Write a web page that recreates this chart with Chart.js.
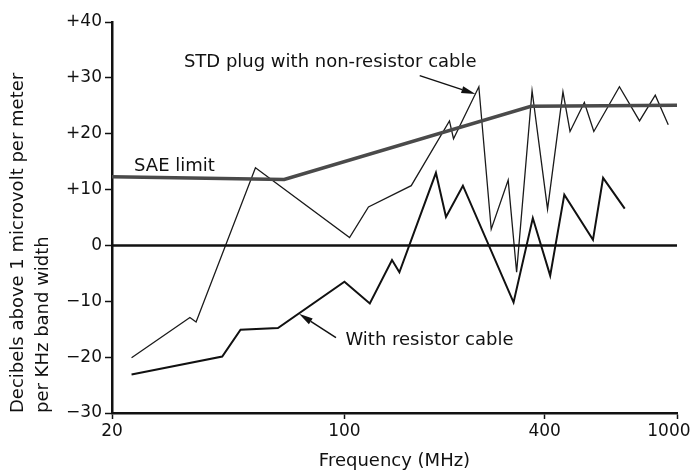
<!DOCTYPE html>
<html>
<head>
<meta charset="utf-8">
<script src="https://cdn.jsdelivr.net/npm/chart.js@4.4.1/dist/chart.umd.min.js"></script>
<style>
  html, body { margin: 0; padding: 0; background: #fff; }
</style>
</head>
<body>
<canvas id="noiseChart" width="693" height="472"></canvas>
<script>
// Frequency in MHz, level in dB above 1 microvolt per meter per KHz
const stdFreq  = [22.9, 34.3, 35.8, 54.0, 103.6, 118.1, 158.8, 206.9, 212.8, 253.6, 276.3, 310.7,
                  329.4, 366.6, 408.1, 454.0, 476.8, 526.5, 562.2, 671.2, 771.5, 860.3, 941.3];
const stdLevel = [-20.1, -12.9, -13.7, 13.9, 1.4, 6.9, 10.7, 22.3, 19.1, 28.4, 2.9, 11.7,
                  -4.8, 27.7, 6.5, 27.5, 20.4, 25.6, 20.4, 28.4, 22.3, 26.9, 21.6];

const resFreq  = [22.9, 42.9, 48.7, 63.1, 100, 119.2, 139.0, 146.3, 188.4, 202.0, 227.1, 322.5,
                  368.5, 415.6, 458.3, 558.9, 599.5, 696.3];
const resLevel = [-23.1, -19.9, -15.1, -14.8, -6.5, -10.4, -2.6, -4.8, 13.0, 5.1, 10.7, -10.2,
                  4.9, -5.4, 9.1, 1.0, 12.1, 6.6];

const saeFreq  = [20, 65.9, 364, 1000];
const saeLevel = [12.3, 11.8, 24.9, 25.1];

const zeroFreq  = [20, 1000];
const zeroLevel = [0, 0];

const xTicks = [20, 100, 400, 1000];
const yTicks = [-30, -20, -10, 0, 10, 20, 30, 40];

// text notes and their arrows (in frequency / dB units)
const noteText  = ['STD plug with non-resistor cable', 'SAE limit', 'With resistor cable'];
const noteFreq  = [32.9, 23.3, 100.7];
const noteLevel = [32.8, 14.2, -17.0];
const arrowFromFreq  = [168.4, 94.3];
const arrowFromLevel = [30.4, -16.5];
const arrowToFreq    = [247.6, 73.0];
const arrowToLevel   = [27.1, -12.25];

const FONT = '"DejaVu Sans", sans-serif';
const INK = '#111';

function pts(xs, ys) {
    return xs.map((v, i) => ({ x: v, y: ys[i] }));
}

const notesPlugin = {
    id: 'notes',
    afterDatasetsDraw(chart) {
        const ctx = chart.ctx;
        const x = chart.scales.x, y = chart.scales.y;
        ctx.save();
        ctx.fillStyle = INK;
        ctx.strokeStyle = INK;
        ctx.font = '18px ' + FONT;
        ctx.textAlign = 'left';
        ctx.textBaseline = 'middle';
        noteText.forEach((t, i) => {
            ctx.fillText(t, x.getPixelForValue(noteFreq[i]), y.getPixelForValue(noteLevel[i]));
        });
        // arrows
        ctx.lineWidth = 1.5;
        arrowFromFreq.forEach((f, i) => {
            const x0 = x.getPixelForValue(f), y0 = y.getPixelForValue(arrowFromLevel[i]);
            const x1 = x.getPixelForValue(arrowToFreq[i]), y1 = y.getPixelForValue(arrowToLevel[i]);
            const a = Math.atan2(y1 - y0, x1 - x0);
            const len = 14, half = 3.5;
            ctx.beginPath();
            ctx.moveTo(x0, y0);
            ctx.lineTo(x1 - Math.cos(a) * len, y1 - Math.sin(a) * len);
            ctx.stroke();
            ctx.beginPath();
            ctx.moveTo(x1, y1);
            ctx.lineTo(x1 - Math.cos(a) * len - Math.sin(a) * half, y1 - Math.sin(a) * len + Math.cos(a) * half);
            ctx.lineTo(x1 - Math.cos(a) * len + Math.sin(a) * half, y1 - Math.sin(a) * len - Math.cos(a) * half);
            ctx.closePath();
            ctx.fill();
        });
        ctx.restore();
    }
};

const ctx = document.getElementById('noiseChart').getContext('2d');
new Chart(ctx, {
    type: 'line',
    data: {
        datasets: [
            { label: 'Zero', data: pts(zeroFreq, zeroLevel), borderColor: INK, borderWidth: 2.5 },
            { label: 'SAE limit', data: pts(saeFreq, saeLevel), borderColor: '#4a4a4a', borderWidth: 3.5 },
            { label: 'STD plug with non-resistor cable', data: pts(stdFreq, stdLevel), borderColor: '#1a1a1a', borderWidth: 1.3 },
            { label: 'With resistor cable', data: pts(resFreq, resLevel), borderColor: INK, borderWidth: 2 }
        ]
    },
    options: {
        responsive: false,
        animation: false,
        elements: { point: { radius: 0 }, line: { tension: 0 } },
        layout: { padding: { top: 22, left: 0, right: 0, bottom: 0 } },
        plugins: { legend: { display: false }, tooltip: { enabled: false } },
        scales: {
            x: {
                type: 'logarithmic',
                min: 20,
                max: 1000,
                afterBuildTicks: s => { s.ticks = xTicks.map(v => ({ value: v })); },
                afterFit: s => { s.height = 59; s.paddingRight = 16; },
                grid: { drawOnChartArea: false, drawTicks: true, tickLength: 6, tickWidth: 1.5, tickColor: INK },
                border: { display: true, color: INK, width: 2.5 },
                ticks: {
                    color: INK, padding: 2, maxRotation: 0, autoSkip: false,
                    font: { family: FONT, size: 17 },
                    callback: v => (v === 1000 ? '1000   ' : String(v))
                },
                title: {
                    display: true, text: 'Frequency (MHz)', color: INK,
                    font: { family: FONT, size: 18 }, padding: { top: 4, bottom: 0 }
                }
            },
            y: {
                min: -30,
                max: 40,
                afterBuildTicks: s => { s.ticks = yTicks.map(v => ({ value: v })); },
                afterFit: s => { s.width = 112; },
                grid: { drawOnChartArea: false, drawTicks: true, tickLength: 7, tickWidth: 1.5, tickColor: INK },
                border: { display: true, color: INK, width: 2.5 },
                ticks: {
                    color: INK, padding: 3,
                    font: { family: FONT, size: 17 },
                    callback: v => (v > 0 ? '+' + v : v < 0 ? '\u2212' + (-v) : '0')
                },
                title: {
                    display: true,
                    text: ['Decibels above 1 microvolt per meter', 'per KHz band width'],
                    align: 'start', color: INK,
                    font: { family: FONT, size: 18, lineHeight: 25 / 18 },
                    padding: { top: 5.5, bottom: 0 }
                }
            }
        }
    },
    plugins: [notesPlugin]
});
</script>
</body>
</html>
